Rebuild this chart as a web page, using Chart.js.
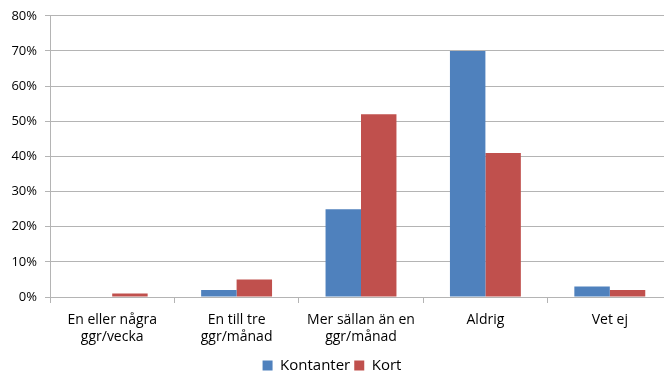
<!DOCTYPE html>
<html><head><meta charset="utf-8">
<script src="https://cdn.jsdelivr.net/npm/chart.js@4/dist/chart.umd.min.js"></script>
<style>html,body{margin:0;padding:0;background:#fff}#w{width:664px;height:374px}</style>
</head><body><div id="w"><canvas id="c"></canvas></div>
<script>
const categories = [["En eller några","ggr/vecka"],["En till tre","ggr/månad"],["Mer sällan än en","ggr/månad"],"Aldrig","Vet ej"];
const kontanter = [0, 2, 25, 70, 3];
const kort = [1, 5, 52, 41, 2];
const yTicks = [0,10,20,30,40,50,60,70,80];
const fam = "'Open Sans', 'Liberation Sans', sans-serif";
const gridCol = '#b4b4b4';
const adjustLayout = {
  id: 'adjustLayout',
  afterLayout(chart) {
    const x = chart.scales.x;
    x.right += 8; x.width += 8;
    chart.chartArea.right += 8; chart.chartArea.width += 8;
    x.configure();
    chart.legend.top += 9; chart.legend.bottom += 9;
  }
};
new Chart(document.getElementById('c'), {
  type: 'bar',
  data: {labels: categories, datasets: [
    {label: 'Kontanter', data: kontanter, backgroundColor: '#4F81BD', categoryPercentage: 0.57, barPercentage: 1},
    {label: 'Kort', data: kort, backgroundColor: '#C0504D', categoryPercentage: 0.57, barPercentage: 1}
  ]},
  plugins: [adjustLayout],
  options: {
    responsive: true, maintainAspectRatio: false, animation: false,
    layout: {padding: {left: 0, right: 0, top: 9, bottom: 0}},
    plugins: {
      legend: {position: 'bottom', labels: {font: {family: fam, size: 15}, color: '#000', boxWidth: 10, boxHeight: 10, padding: 4}},
      tooltip: {enabled: false}
    },
    scales: {
      x: {
        afterFit: s => { s.height = 48; },
        grid: {drawOnChartArea: false, color: gridCol, tickLength: 6, offset: true},
        border: {color: gridCol},
        ticks: {font: {family: fam, size: 14, lineHeight: 1.2}, color: '#000', maxRotation: 0, padding: 9}
      },
      y: {
        min: 0, max: 80,
        afterFit: s => { s.width = 50; },
        afterBuildTicks: ax => { ax.ticks = yTicks.map(v => ({value: v})); },
        grid: {color: gridCol, tickLength: 5},
        border: {color: gridCol},
        ticks: {font: {family: fam, size: 13}, color: '#000', callback: v => v + '%', padding: 8}
      }
    }
  }
});
</script></body></html>
